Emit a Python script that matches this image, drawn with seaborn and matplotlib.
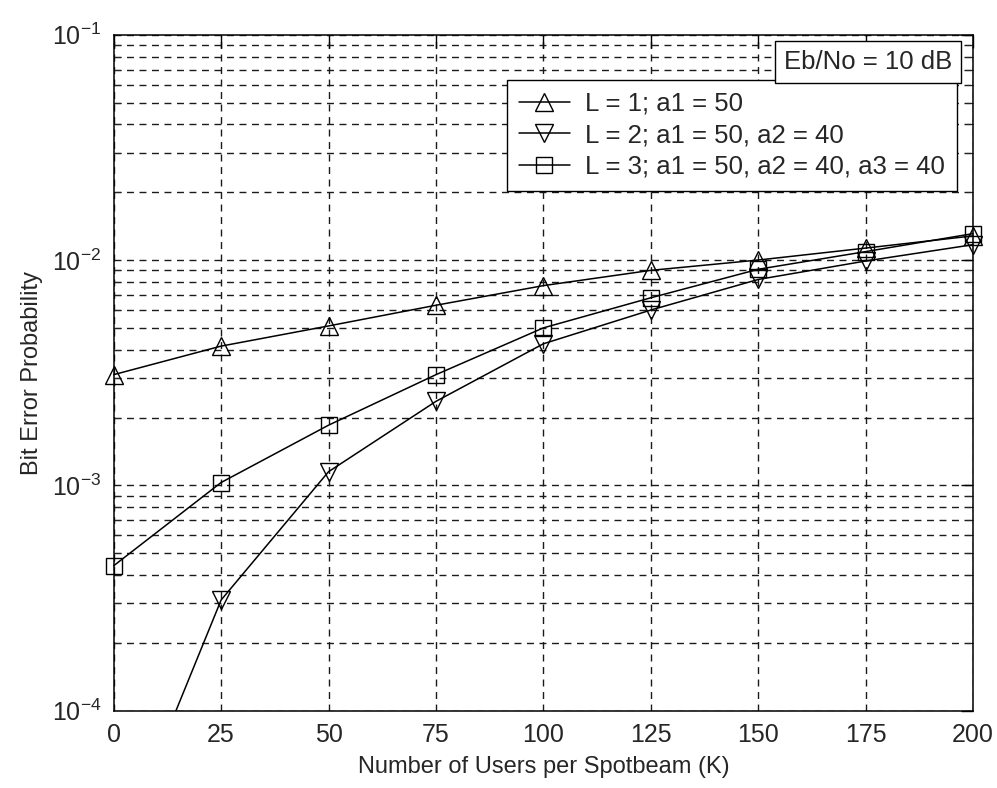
import matplotlib
matplotlib.use("Agg")
import matplotlib.pyplot as plt
import seaborn as sns
import numpy as np
import pandas as pd
from matplotlib import font_manager
from matplotlib.ticker import LogLocator, FixedLocator, NullFormatter
from matplotlib.transforms import Bbox, TransformedBbox

# ---- data ----
users_K = [0, 25, 50, 75, 100, 125, 150, 175, 200]
ber_L1 = [3.1e-3, 4.15e-3, 5.1e-3, 6.3e-3, 7.7e-3, 9.0e-3, 1.0e-2, 1.13e-2, 1.28e-2]
ber_L2 = [2.1e-5, 3.1e-4, 1.15e-3, 2.36e-3, 4.25e-3, 6.0e-3, 8.2e-3, 9.9e-3, 1.17e-2]
ber_L3 = [4.4e-4, 1.03e-3, 1.85e-3, 3.1e-3, 5.0e-3, 6.8e-3, 9.1e-3, 1.09e-2, 1.31e-2]
labels = ["L = 1; a1 = 50", "L = 2; a1 = 50, a2 = 40", "L = 3; a1 = 50, a2 = 40, a3 = 40"]
x_ticks = [0, 25, 50, 75, 100, 125, 150, 175, 200]
annotation = "Eb/No = 10 dB"

sns.set_style("white")
names = {f.name for f in font_manager.fontManager.ttflist}
fam = "Liberation Sans" if "Liberation Sans" in names else "DejaVu Sans"
plt.rcParams["font.family"] = [fam, "DejaVu Sans"]
plt.rcParams["mathtext.fontset"] = "custom"
plt.rcParams["mathtext.rm"] = fam
plt.rcParams["mathtext.default"] = "regular"
plt.rcParams["axes.unicode_minus"] = False

fig = plt.figure(figsize=(9.97, 7.88), dpi=100)
ax = fig.add_axes([0.114, 0.098, 0.862, 0.858])

markers = ["^", "v", "s"]
sizes = [13, 13, 12]
for y, lab, m, ms in zip([ber_L1, ber_L2, ber_L3], labels, markers, sizes):
    df = pd.DataFrame({"K": users_K, "BER": y})
    sns.lineplot(data=df, x="K", y="BER", ax=ax, color="black", lw=1.1,
                 marker=m, markersize=ms, markerfacecolor="none",
                 markeredgecolor="black", markeredgewidth=1.0, label=lab)

# clip only at the bottom/top so edge markers stay whole
clipbox = TransformedBbox(Bbox([[-0.05, 0.0], [1.05, 1.0]]), ax.transAxes)
for ln in ax.get_lines():
    ln.set_clip_path(None)
    ln.set_clip_box(clipbox)
    ln.set_clip_on(True)
    ln.set_zorder(3)

ax.set_yscale("log")
ax.set_xlim(0, 200)
ax.set_ylim(1e-4, 1e-1)
ax.xaxis.set_major_locator(FixedLocator(x_ticks))
ax.yaxis.set_major_locator(LogLocator(base=10, numticks=10))
ax.yaxis.set_minor_locator(LogLocator(base=10, subs=np.arange(2, 10), numticks=20))
ax.yaxis.set_minor_formatter(NullFormatter())

gkw = dict(color="#1a1a1a", linestyle=(0, (5, 4)), linewidth=1.0)
ax.grid(True, which="major", axis="both", **gkw)
ax.grid(True, which="minor", axis="y", **gkw)

ax.tick_params(axis="both", which="major", direction="in", length=9, width=1,
               top=True, right=True, labelsize=18, color="black", pad=9)
ax.tick_params(axis="y", which="minor", direction="in", length=5, width=0.8,
               left=True, right=True)
for s in ax.spines.values():
    s.set_color("black")
    s.set_linewidth(1.1)

ax.set_xlabel("Number of Users per Spotbeam (K)", fontsize=17, labelpad=6)
ax.set_ylabel("Bit Error Probability", fontsize=17, labelpad=6)

leg = ax.legend(loc="upper right", bbox_to_anchor=(0.981, 0.933), fontsize=18.5,
                frameon=True, fancybox=False, edgecolor="black", framealpha=1,
                handlelength=2.0, labelspacing=0.3, borderpad=0.45,
                handletextpad=0.6, borderaxespad=0)
leg.get_frame().set_linewidth(1.0)
leg.set_zorder(10)

ax.text(0.976, 0.978, annotation, transform=ax.transAxes, ha="right", va="top",
        fontsize=18.5, zorder=11,
        bbox=dict(boxstyle="square,pad=0.35", facecolor="white", edgecolor="black", linewidth=1.0))

fig.savefig("out.png", dpi=100, facecolor="white")
